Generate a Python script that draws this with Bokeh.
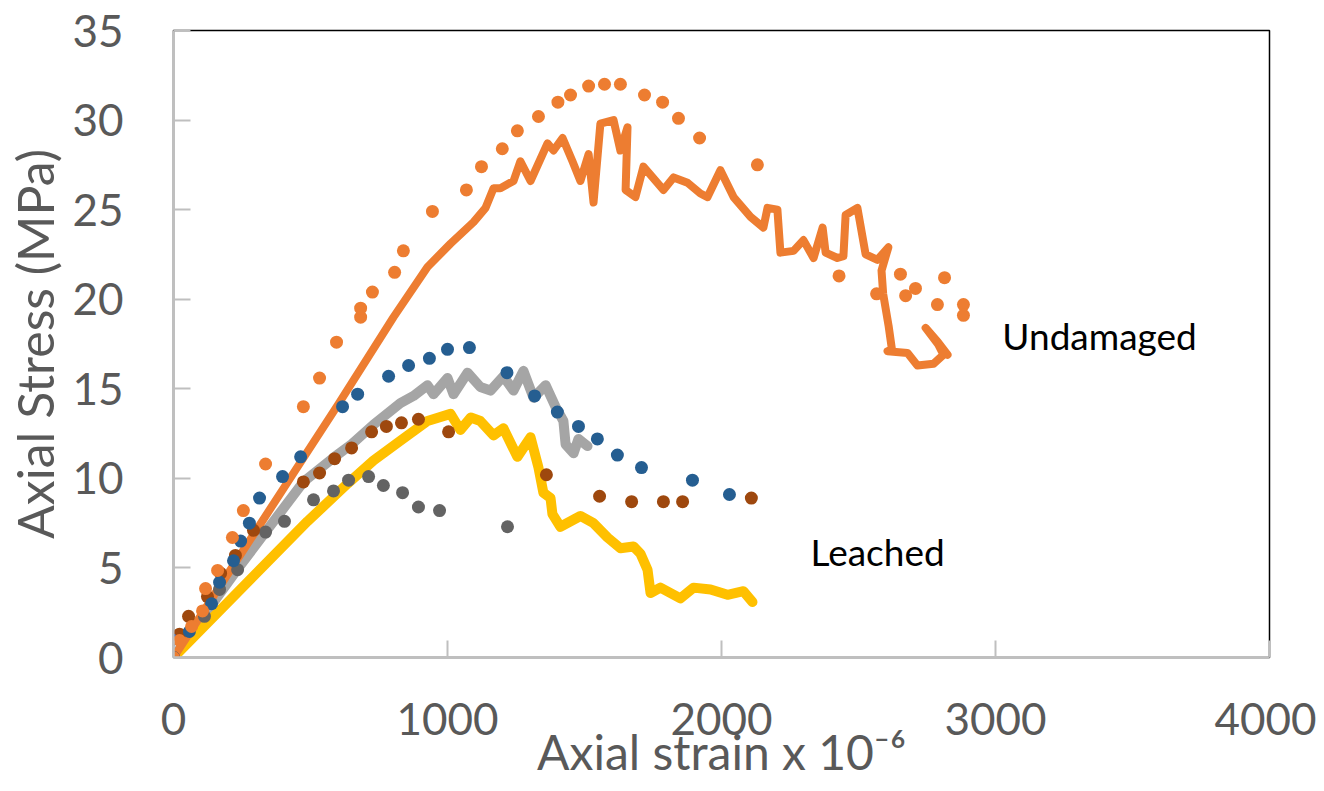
from bokeh.plotting import figure
from bokeh.models import Range1d, Label, FixedTicker
from bokeh.embed import file_html
from bokeh.resources import INLINE

x_ticks = [0, 1000, 2000, 3000, 4000]
y_ticks = [0, 5, 10, 15, 20, 25, 30, 35]

# Undamaged - test curve (orange line)
und_line_x = [0, 200, 400, 600, 803, 927, 1011, 1095, 1139, 1168, 1193, 1241, 1266, 1303, 1365, 1387,
              1420, 1456, 1485, 1515, 1533, 1558, 1606, 1631, 1657, 1650, 1686, 1715, 1788, 1825, 1876,
              1923, 1949, 1996, 2044, 2106, 2153, 2168, 2204, 2215, 2263, 2299, 2336, 2369, 2380, 2423,
              2445, 2453, 2496, 2526, 2569, 2609, 2584, 2590, 2610, 2622, 2606, 2679, 2715, 2774, 2810,
              2790, 2745, 2790, 2825]
und_line_y = [0, 4.7, 9.4, 14.1, 19.0, 21.8, 23.1, 24.3, 25.1, 26.2, 26.2, 26.6, 27.7, 26.6, 28.7, 28.3,
              29.0, 27.7, 26.6, 28.1, 25.4, 29.8, 30.0, 28.3, 29.6, 26.1, 25.7, 27.4, 26.1, 26.8, 26.5,
              25.9, 25.7, 27.2, 25.7, 24.6, 24.0, 25.1, 25.0, 22.6, 22.7, 23.3, 22.3, 24.0, 22.6, 22.3,
              22.4, 24.7, 25.1, 22.5, 22.2, 22.9, 21.6, 20.3, 18.5, 17.2, 17.1, 17.0, 16.3, 16.4, 16.9,
              17.5, 18.4, 17.6, 16.9]

# Undamaged - model (orange dots)
und_dot_x = [0, 22, 66, 106, 117, 161, 215, 255, 336, 474, 533, 595, 683, 683, 726, 807, 839, 945, 1069,
             1124, 1200, 1255, 1332, 1403, 1449, 1515, 1573, 1631, 1719, 1785, 1843, 1920, 2131, 2429,
             2566, 2653, 2708, 2672, 2814, 2788, 2883, 2883]
und_dot_y = [0, 0.95, 1.73, 2.6, 3.85, 4.86, 6.7, 8.2, 10.8, 14.0, 15.6, 17.6, 19.0, 19.5, 20.4, 21.5,
             22.7, 24.9, 26.1, 27.4, 28.4, 29.4, 30.2, 31.0, 31.4, 31.9, 32.0, 32.0, 31.4, 31.0, 30.1,
             29.0, 27.5, 21.3, 20.3, 21.4, 20.6, 20.2, 21.2, 19.7, 19.7, 19.1]

# Blue dots
blue_x = [0, 58, 139, 168, 219, 245, 277, 314, 398, 464, 617, 672, 785, 858, 934, 1000, 1080, 1217,
          1318, 1401, 1478, 1547, 1620, 1708, 1894, 2029]
blue_y = [0, 1.45, 3.0, 4.2, 5.4, 6.5, 7.5, 8.9, 10.1, 11.2, 14.0, 14.7, 15.7, 16.3, 16.7, 17.2, 17.3,
          15.9, 14.6, 13.7, 12.9, 12.2, 11.3, 10.6, 9.9, 9.1]

# Light blue dot
lblue_x = [-7]
lblue_y = [1.0]

# Brown dots
brown_x = [0, 22, 55, 124, 172, 226, 292, 474, 533, 588, 650, 723, 777, 832, 894, 1004, 1361, 1555,
           1672, 1788, 1858, 2109]
brown_y = [0, 1.3, 2.3, 3.4, 4.7, 5.7, 7.1, 9.8, 10.3, 11.1, 11.7, 12.6, 12.9, 13.1, 13.3, 12.6, 10.2,
           9.0, 8.7, 8.7, 8.7, 8.9]

# Dark gray dots
dgray_x = [0, 113, 168, 234, 336, 405, 511, 584, 639, 712, 766, 836, 894, 971, 1219]
dgray_y = [0, 2.3, 3.8, 4.9, 7.0, 7.6, 8.8, 9.3, 9.9, 10.1, 9.6, 9.2, 8.4, 8.2, 7.3]

# Gray line
gray_x = [0, 237, 474, 588, 650, 730, 828, 876, 927, 949, 1000, 1022, 1073, 1120, 1157, 1204, 1241,
          1277, 1314, 1358, 1394, 1423, 1431, 1460, 1478, 1511]
gray_y = [0, 5.0, 9.8, 11.2, 11.9, 13.0, 14.2, 14.6, 15.2, 14.7, 15.6, 14.7, 15.9, 15.1, 14.9, 15.7,
          14.9, 16.0, 14.5, 15.2, 14.0, 13.2, 11.9, 11.4, 12.2, 11.8]

# Yellow line
yel_x = [0, 489, 635, 730, 828, 927, 1011, 1047, 1085, 1120, 1168, 1204, 1255, 1303, 1332, 1350, 1376,
         1383, 1412, 1485, 1533, 1584, 1631, 1679, 1704, 1730, 1741, 1777, 1850, 1898, 1960, 2022,
         2080, 2113]
yel_y = [0, 7.6, 9.7, 11.0, 12.1, 13.2, 13.6, 12.7, 13.4, 13.2, 12.4, 12.8, 11.2, 12.3, 10.6, 9.2, 8.9,
         8.0, 7.3, 7.9, 7.5, 6.7, 6.1, 6.2, 5.8, 4.9, 3.6, 3.9, 3.3, 3.9, 3.8, 3.5, 3.7, 3.1]

p = figure(width=1316, height=783, x_range=Range1d(0, 4000), y_range=Range1d(0, 35),
           output_backend="svg", toolbar_location=None,
           min_border_left=173, min_border_right=47, min_border_top=30, min_border_bottom=126)
p.background_fill_color = "white"
p.border_fill_color = "white"
p.outline_line_color = "black"
p.outline_line_width = 1.5
p.xgrid.visible = False
p.ygrid.visible = False

p.xaxis.ticker = FixedTicker(ticks=x_ticks)
p.yaxis.ticker = FixedTicker(ticks=y_ticks)
for ax in (p.xaxis, p.yaxis):
    ax.axis_line_color = "#BFBFBF"
    ax.axis_line_width = 2
    ax.major_tick_line_color = "#BFBFBF"
    ax.major_tick_line_width = 2
    ax.major_tick_in = 17
    ax.major_tick_out = 0
    ax.minor_tick_line_color = None
    ax.major_label_text_font = "Lato"
    ax.major_label_text_font_size = "44px"
    ax.major_label_text_color = "#595959"
    ax.axis_label_text_font = "Lato"
    ax.axis_label_text_font_style = "normal"
    ax.axis_label_text_color = "#595959"
p.yaxis.major_label_standoff = 50
p.xaxis.major_label_standoff = 45
p.yaxis.axis_label = "Axial Stress (MPa)"
p.yaxis.axis_label_text_font_size = "50px"
p.yaxis.axis_label_standoff = 4
p.xaxis.axis_label = "Axial strain x 10\u207b\u2076"
p.xaxis.axis_label_text_font_size = "48px"
p.xaxis.axis_label_standoff = -15

lw = dict(line_join="round", line_cap="round")
p.line(gray_x, gray_y, line_color="#A5A5A5", line_width=10, **lw)
p.line(yel_x, yel_y, line_color="#FFC000", line_width=10, **lw)
p.line(und_line_x, und_line_y, line_color="#ED7D31", line_width=8, **lw)

sz = 13
p.scatter(dgray_x, dgray_y, size=sz, fill_color="#636363", line_color=None)
p.scatter(brown_x, brown_y, size=sz, fill_color="#9E480E", line_color=None)
p.scatter(blue_x, blue_y, size=sz, fill_color="#255E91", line_color=None)
p.scatter(lblue_x, lblue_y, size=sz, fill_color="#4472C4", line_color=None)
p.scatter(und_dot_x, und_dot_y, size=sz, fill_color="#ED7D31", line_color=None)

p.add_layout(Label(x=3025, y=17.97, text="Undamaged", text_font="Lato", text_font_size="37px",
                   text_color="black", text_baseline="alphabetic"))
p.add_layout(Label(x=2325, y=5.92, text="Leached", text_font="Lato", text_font_size="37px",
                   text_color="black", text_baseline="alphabetic"))

open("out.html", "w").write(file_html(p, INLINE))
